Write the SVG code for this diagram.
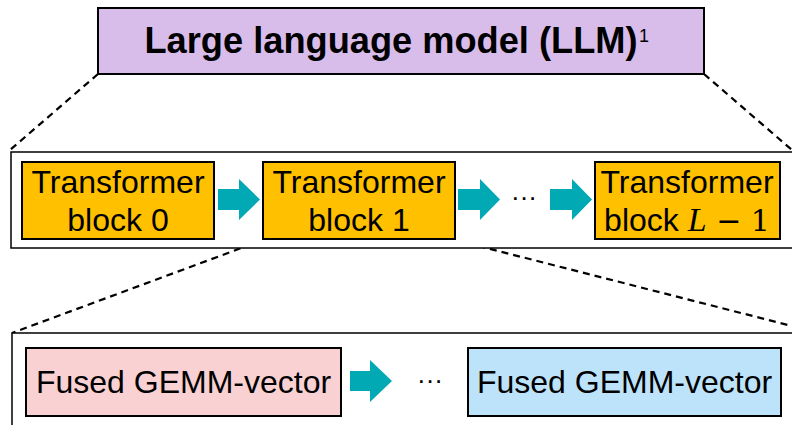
<svg xmlns="http://www.w3.org/2000/svg" width="792" height="425" viewBox="0 0 792 425">
<style>
.box{stroke:#000;stroke-width:2}
.cont{fill:#fff;stroke:#000;stroke-width:1.5}
.dash{fill:none;stroke:#000;stroke-width:2.2;stroke-dasharray:7 5}
.t{font-family:"Liberation Sans",Arial,sans-serif;font-size:32px;fill:#000;text-anchor:middle}
.arrow{fill:#00A9B4}
.dots{font-family:"Liberation Sans",Arial,sans-serif;font-size:26px;fill:#000;text-anchor:middle}
</style>
<rect width="792" height="425" fill="#fff"/>
<g id="connectors">
<line class="dash" x1="98" y1="74" x2="10" y2="150"/>
<line class="dash" x1="704" y1="74" x2="792" y2="150"/>
<line class="dash" x1="263" y1="240" x2="12" y2="333"/>
<line class="dash" x1="455" y1="240" x2="792" y2="326"/>
</g>
<g id="llm">
<rect x="98" y="8" width="606" height="66" fill="#D8BDEB" class="box"/>
<text x="391" y="53" font-family="Liberation Sans,Arial,sans-serif" font-size="36" font-weight="bold" text-anchor="middle" textLength="493" lengthAdjust="spacingAndGlyphs">Large language model (LLM)</text>
<text x="644" y="42" font-family="Liberation Sans,Arial,sans-serif" font-size="18" text-anchor="middle">1</text>
</g>
<g id="blocks-container">
<rect class="cont" x="11" y="152" width="790" height="96"/>
</g>
<g id="ops-container">
<rect class="cont" x="12" y="333" width="790" height="100"/>
</g>
<g id="block0">
<rect x="22" y="162" width="192" height="77" fill="#FFC000" class="box"/>
<text class="t" x="118" y="193">Transformer</text>
<text class="t" x="118" y="231">block 0</text>
</g>
<g id="block1">
<rect x="263" y="162" width="192" height="77" fill="#FFC000" class="box"/>
<text class="t" x="359" y="193">Transformer</text>
<text class="t" x="359" y="231">block 1</text>
</g>
<g id="blockL">
<rect x="595" y="162" width="185" height="77" fill="#FFC000" class="box"/>
<text class="t" x="687" y="193">Transformer</text>
<text class="t" x="687" y="231">block <tspan font-family="Liberation Serif,serif" font-style="italic" font-size="34">L</tspan><tspan font-family="DejaVu Serif,serif" font-size="30"> − 1</tspan></text>
</g>
<g id="arrows">
<polygon class="arrow" points="218,189 239,189 239,179 260,199.5 239,220 239,210 218,210"/>
<polygon class="arrow" points="458,189 480,189 480,179 500,199.5 480,220 480,210 458,210"/>
<polygon class="arrow" points="550,189 572,189 572,179 592,199.5 572,220 572,210 550,210"/>
<polygon class="arrow" points="350,371 370,371 370,360 392,381 370,402 370,391 350,391"/>
</g>
<text class="dots" x="524" y="206">···</text>
<text class="dots" x="430" y="389">···</text>
<g id="fused1">
<rect x="26" y="348" width="315" height="68" fill="#F9D1D3" class="box"/>
<text class="t" x="183.5" y="393">Fused GEMM-vector</text>
</g>
<g id="fused2">
<rect x="468" y="348" width="313" height="68" fill="#BDE3FA" class="box"/>
<text class="t" x="624.5" y="393">Fused GEMM-vector</text>
</g>
</svg>
